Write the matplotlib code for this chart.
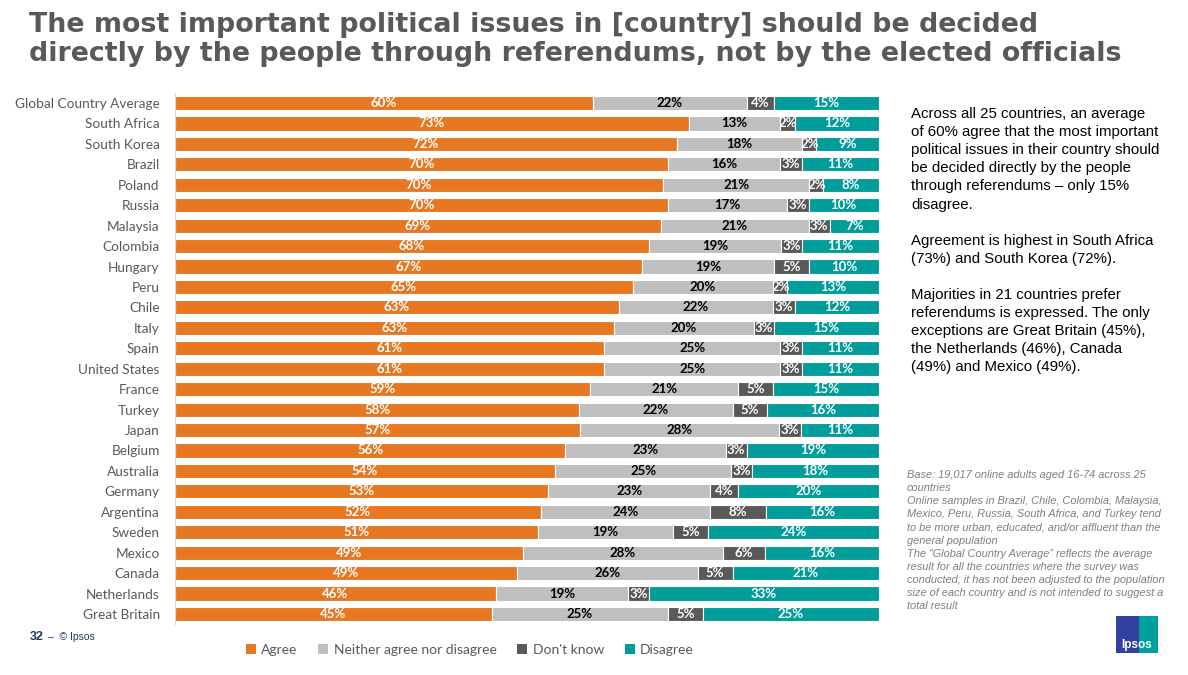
import matplotlib
matplotlib.use("Agg")
import matplotlib.pyplot as plt
from matplotlib.patches import Rectangle, Patch
import numpy as np

countries = ["Global Country Average", "South Africa", "South Korea", "Brazil", "Poland",
             "Russia", "Malaysia", "Colombia", "Hungary", "Peru", "Chile", "Italy", "Spain",
             "United States", "France", "Turkey", "Japan", "Belgium", "Australia", "Germany",
             "Argentina", "Sweden", "Mexico", "Canada", "Netherlands", "Great Britain"]
agree = [60, 73, 72, 70, 70, 70, 69, 68, 67, 65, 63, 63, 61, 61, 59, 58, 57, 56, 54, 53, 52, 51, 49, 49, 46, 45]
neither = [22, 13, 18, 16, 21, 17, 21, 19, 19, 20, 22, 20, 25, 25, 21, 22, 28, 23, 25, 23, 24, 19, 28, 26, 19, 25]
dont_know = [4, 2, 2, 3, 2, 3, 3, 3, 5, 2, 3, 3, 3, 3, 5, 5, 3, 3, 3, 4, 8, 5, 6, 5, 3, 5]
disagree = [15, 12, 9, 11, 8, 10, 7, 11, 10, 13, 12, 15, 11, 11, 15, 16, 11, 19, 18, 20, 16, 24, 16, 21, 33, 25]
series_names = ["Agree", "Neither agree nor disagree", "Don't know", "Disagree"]
colors = ["#E87722", "#BFBFBF", "#595959", "#009D9A"]
label_colors = ["white", "black", "white", "white"]

W, H = 1188, 675
fig = plt.figure(figsize=(W / 100, H / 100), dpi=100)

# Title
title_font = dict(family="DejaVu Sans", weight="bold", color="#595959", size=19.4)
fig.text(29 / W, 1 - 32 / H, "The most important political issues in [country] should be decided",
         ha="left", va="baseline", **title_font)
fig.text(29 / W, 1 - 61 / H, "directly by the people through referendums, not by the elected officials",
         ha="left", va="baseline", **title_font)

# Chart axes
left, right, top, bottom = 175, 879, 92.8, 624.2
ax = fig.add_axes([left / W, 1 - bottom / H, (right - left) / W, (bottom - top) / H])
data = np.array([agree, neither, dont_know, disagree], dtype=float)
totals = data.sum(axis=0)
norm = data / totals * 100
y = np.arange(len(countries))
cum = np.zeros(len(countries))
for i in range(4):
    ax.barh(y, norm[i], left=cum, height=0.69, color=colors[i], edgecolor="white", linewidth=0.8)
    for j in range(len(countries)):
        ax.text(cum[j] + norm[i][j] / 2, y[j], f"{int(data[i][j])}%", ha="center", va="center",
                fontsize=9.5, fontweight="bold", color=label_colors[i], family="Lato")
    cum += norm[i]
ax.set_xlim(0, 100)
ax.set_ylim(len(countries) - 0.5, -0.5)
ax.set_yticks(y)
ax.set_yticklabels(countries, fontsize=9.8, color="#595959", family="Lato")
ax.tick_params(axis="y", length=0, pad=11)
ax.set_xticks([])
for s in ["top", "right", "bottom"]:
    ax.spines[s].set_visible(False)
ax.spines["left"].set_color("#D9D9D9")
ax.spines["left"].set_linewidth(0.8)

# Legend
handles = [Patch(facecolor=c, edgecolor="none") for c in colors]
fig.legend(handles, series_names, loc="center", bbox_to_anchor=(470 / W, 1 - 650 / H), ncol=4,
           frameon=False, handlelength=0.7, handleheight=0.7, handletextpad=0.4, columnspacing=1.5,
           prop=dict(family="Lato", size=10), labelcolor="#595959")

# Right commentary
comment = ["Across all 25 countries, an average",
           "of 60% agree that the most important",
           "political issues in their country should",
           "be decided directly by the people",
           "through referendums \u2013 only 15%",
           "disagree.",
           "",
           "Agreement is highest in South Africa",
           "(73%) and South Korea (72%).",
           "",
           "Majorities in 21 countries prefer",
           "referendums is expressed. The only",
           "exceptions are Great Britain (45%),",
           "the Netherlands (46%), Canada",
           "(49%) and Mexico (49%)."]
for k, line in enumerate(comment):
    fig.text(911 / W, 1 - (114 + 18.1 * k) / H, line, ha="left", va="center",
             family="Liberation Sans", size=10.8, color="black")

foot = ["Base: 19,017 online adults aged 16-74 across 25",
        "countries",
        "Online samples in Brazil, Chile, Colombia, Malaysia,",
        "Mexico, Peru, Russia, South Africa, and Turkey tend",
        "to be more urban, educated, and/or affluent than the",
        "general population",
        "The \u201cGlobal Country Average\u201d reflects the average",
        "result for all the countries where the survey was",
        "conducted; it has not been adjusted to the population",
        "size of each country and is not intended to suggest a",
        "total result"]
for k, line in enumerate(foot):
    fig.text(907 / W, 1 - (475 + 13.1 * k) / H, line, ha="left", va="center",
             family="Liberation Sans", style="italic", size=7.9, color="#7F7F7F")

# Page footer
fig.text(30 / W, 1 - 637 / H, "32", ha="left", va="center", family="Liberation Sans",
         weight="bold", size=9, color="#1F3864")
fig.text(48 / W, 1 - 637 / H, "\u2013  \u00a9 Ipsos", ha="left", va="center", family="Liberation Sans",
         size=7.5, color="#1F3864")

# Logo
fig.patches.append(Rectangle((1116 / W, 1 - 653 / H), 42 / W, 37 / H, transform=fig.transFigure,
                             facecolor="#3241A0", edgecolor="none"))
fig.patches.append(Rectangle((1139 / W, 1 - 653 / H), 19 / W, 37 / H, transform=fig.transFigure,
                             facecolor="#00A19A", edgecolor="none"))
fig.text(1137 / W, 1 - 645 / H, "Ipsos", ha="center", va="center", family="Liberation Sans",
         weight="bold", size=8.5, color="white")

fig.savefig("out.png", dpi=100)
